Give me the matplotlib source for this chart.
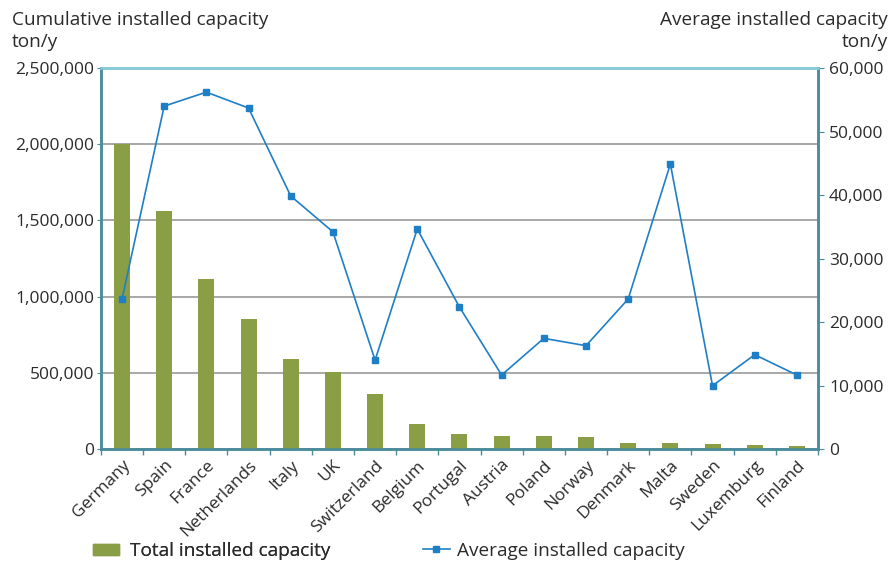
import matplotlib
matplotlib.use("Agg")
import matplotlib.pyplot as plt
from matplotlib.ticker import FuncFormatter, FixedLocator
from matplotlib.lines import Line2D
from matplotlib.patches import Patch

countries = ["Germany", "Spain", "France", "Netherlands", "Italy", "UK", "Switzerland",
             "Belgium", "Portugal", "Austria", "Poland", "Norway", "Denmark", "Malta",
             "Sweden", "Luxemburg", "Finland"]
total_capacity = [2000000, 1560000, 1115000, 853000, 590000, 505000, 361000,
                  164000, 98000, 87000, 85000, 77000, 41000, 37000, 35000, 24000, 19000]
average_capacity = [23600, 54000, 56200, 53700, 39850, 34200, 14000,
                    34650, 22360, 11650, 17430, 16270, 23620, 44880, 9970, 14850, 11650]
left_ticks = [0, 500000, 1000000, 1500000, 2000000, 2500000]
right_ticks = [0, 10000, 20000, 30000, 40000, 50000, 60000]

plt.rcParams['font.family'] = ['Open Sans', 'DejaVu Sans']
text_color = "#2b2b2b"
bar_color = "#8a9e45"
line_color = "#1f7fc6"
spine_color = "#4a8c9c"
top_color = "#86c9d9"
grid_color = "#9a9a9a"
fs = 12.5
fs_title = 13.7

fig = plt.figure(figsize=(8.93, 5.65), dpi=100)
ax = fig.add_axes([0.113, 0.2053, 0.803, 0.6743])
ax2 = ax.twinx()

x = list(range(len(countries)))
ax.bar(x, total_capacity, width=0.38, color=bar_color, zorder=3)
ax.set_xlim(-0.5, len(countries) - 0.5)
ax.set_ylim(0, 2500000)
ax.yaxis.set_major_locator(FixedLocator(left_ticks))
ax.yaxis.set_major_formatter(FuncFormatter(lambda v, p: f"{int(v):,}"))
ax.grid(axis="y", color=grid_color, linewidth=1.2, zorder=0)
ax.set_axisbelow(True)

ax2.plot(x, average_capacity, color=line_color, linewidth=1.2, marker="s",
         markersize=5, zorder=4)
ax2.set_ylim(0, 60000)
ax2.yaxis.set_major_locator(FixedLocator(right_ticks))
ax2.yaxis.set_major_formatter(FuncFormatter(lambda v, p: f"{int(v):,}"))

# x ticks: labels at centres, tick marks at boundaries
ax.set_xticks(x)
ax.set_xticklabels(countries, rotation=45, ha="right", rotation_mode="anchor",
                   fontsize=fs, color=text_color)
ax.tick_params(axis="x", which="major", length=0, pad=6)
ax.set_xticks([i - 0.5 for i in range(len(countries) + 1)], minor=True)
ax.tick_params(axis="x", which="minor", length=4, color=spine_color, width=1)

ax.tick_params(axis="y", labelsize=fs, labelcolor=text_color, length=3,
               color=spine_color, pad=2)
ax2.tick_params(axis="y", labelsize=fs, labelcolor=text_color, length=4,
                color=spine_color, pad=4)

for a in (ax, ax2):
    a.spines["left"].set_color(spine_color)
    a.spines["right"].set_color(spine_color)
    a.spines["bottom"].set_color(spine_color)
    a.spines["top"].set_color(top_color)
    for s in a.spines.values():
        s.set_linewidth(1.8)

fig.text(12 / 893, 1 - 20 / 565, "Cumulative installed capacity", fontsize=fs_title,
         color=text_color, va="center", ha="left")
fig.text(12 / 893, 1 - 42 / 565, "ton/y", fontsize=fs_title, color=text_color,
         va="center", ha="left")
fig.text(888 / 893, 1 - 20 / 565, "Average installed capacity", fontsize=fs_title,
         color=text_color, va="center", ha="right")
fig.text(888 / 893, 1 - 42 / 565, "ton/y", fontsize=fs_title, color=text_color,
         va="center", ha="right")

h_bar = Patch(color=bar_color)
h_line = Line2D([0], [0], color=line_color, marker="s", markersize=4, linewidth=1.2)
leg1 = fig.legend([h_bar], ["Total installed capacity"], loc="center left",
                  bbox_to_anchor=(93 / 893, 1 - 551 / 565), frameon=False,
                  fontsize=fs_title, handlelength=1.35, handleheight=0.5,
                  handletextpad=0.6, borderpad=0, borderaxespad=0, labelcolor=text_color)
leg2 = fig.legend([h_line], ["Average installed capacity"], loc="center left",
                  bbox_to_anchor=(423 / 893, 1 - 551 / 565), frameon=False,
                  fontsize=fs_title, handlelength=1.4, handletextpad=0.4,
                  borderpad=0, borderaxespad=0, labelcolor=text_color)
fig.add_artist(leg1)

fig.savefig("out.png", dpi=100)
